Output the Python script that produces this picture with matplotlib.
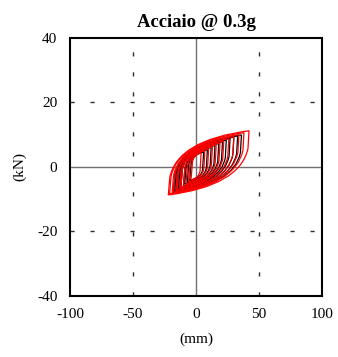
import matplotlib.pyplot as plt
from matplotlib.path import Path
from matplotlib.patches import PathPatch

plt.rcParams['font.family'] = ['Liberation Serif', 'DejaVu Serif']
plt.rcParams['axes.unicode_minus'] = False

# cycle peaks (mm, kN) for the two records
black_dmax = [36, 33, 30, 27, 24, 21, 18, 15, 12, 9, 6]
black_fmax = [9.9, 9.6, 9.2, 8.8, 8.3, 7.8, 7.2, 6.6, 6.0, 5.3, 4.6]
black_dmin = [-18, -17, -16, -15, -14, -13, -12, -10, -9, -7, -5]
black_fmin = [-8.0, -7.8, -7.5, -7.2, -6.9, -6.6, -6.2, -5.8, -5.3, -4.8, -4.2]

red_dmax = [42, 38, 34, 30, 26, 22, 19, 16, 13, 10, 7, 4]
red_fmax = [11.2, 10.6, 10.0, 9.4, 8.7, 8.0, 7.4, 6.8, 6.2, 5.6, 5.0, 4.3]
red_dmin = [-22, -21, -19, -18, -16, -15, -13, -12, -10, -8, -6, -4]
red_fmin = [-8.7, -8.4, -8.1, -7.8, -7.4, -7.0, -6.6, -6.2, -5.7, -5.2, -4.6, -4.0]

drop = 5.5  # force change on the steep unloading branch


def loop_path(dmax, fmax, dmin, fmin):
    span = dmax - dmin
    a = (dmin + 1.2, fmin + drop)
    d = (dmax - 0.8, fmax - drop)
    c_up = (a[0] + 0.1 * span, fmax - 0.2 * (fmax - a[1]))
    c_dn = (d[0] - 0.1 * span, fmin + 0.2 * (d[1] - fmin))
    verts = [(dmin, fmin), a, c_up, (dmax, fmax), d, c_dn, (dmin, fmin)]
    codes = [Path.MOVETO, Path.LINETO, Path.CURVE3, Path.CURVE3,
             Path.LINETO, Path.CURVE3, Path.CURVE3]
    return Path(verts, codes)


fig = plt.figure(figsize=(3.38, 3.57), dpi=100)
ax = fig.add_axes([0.207, 0.171, 0.746, 0.723])

ax.axhline(0, color='#707070', lw=1.0, zorder=1)
ax.axvline(0, color='#707070', lw=1.0, zorder=1)
for v in (-50, 50):
    ax.axvline(v, color='#303030', lw=1.0, ls=(0, (3, 11.4)), zorder=1)
for v in (-20, 20):
    ax.axhline(v, color='#303030', lw=1.0, ls=(0, (3, 11.4)), zorder=1)

for i in range(len(black_dmax)):
    p = loop_path(black_dmax[i], black_fmax[i], black_dmin[i], black_fmin[i])
    ax.add_patch(PathPatch(p, fill=False, ec='black', lw=0.9, zorder=2))
for i in range(len(red_dmax)):
    p = loop_path(red_dmax[i], red_fmax[i], red_dmin[i], red_fmin[i])
    ax.add_patch(PathPatch(p, fill=False, ec='red', lw=0.9, zorder=3))

ax.set_xlim(-100, 100)
ax.set_ylim(-40, 40)
ax.set_xticks([-100, -50, 0, 50, 100])
ax.set_yticks([-40, -20, 0, 20, 40])
ax.tick_params(length=0, labelsize=11, pad=9)
for s in ax.spines.values():
    s.set_linewidth(1.5)

ax.set_xlabel('(mm)', fontsize=11, labelpad=8)
ax.set_ylabel('(kN)', fontsize=11, labelpad=8)
ax.set_title('Acciaio @ 0.3g', fontsize=13.5, fontweight='bold', pad=8)

fig.savefig('out.png', dpi=100)
